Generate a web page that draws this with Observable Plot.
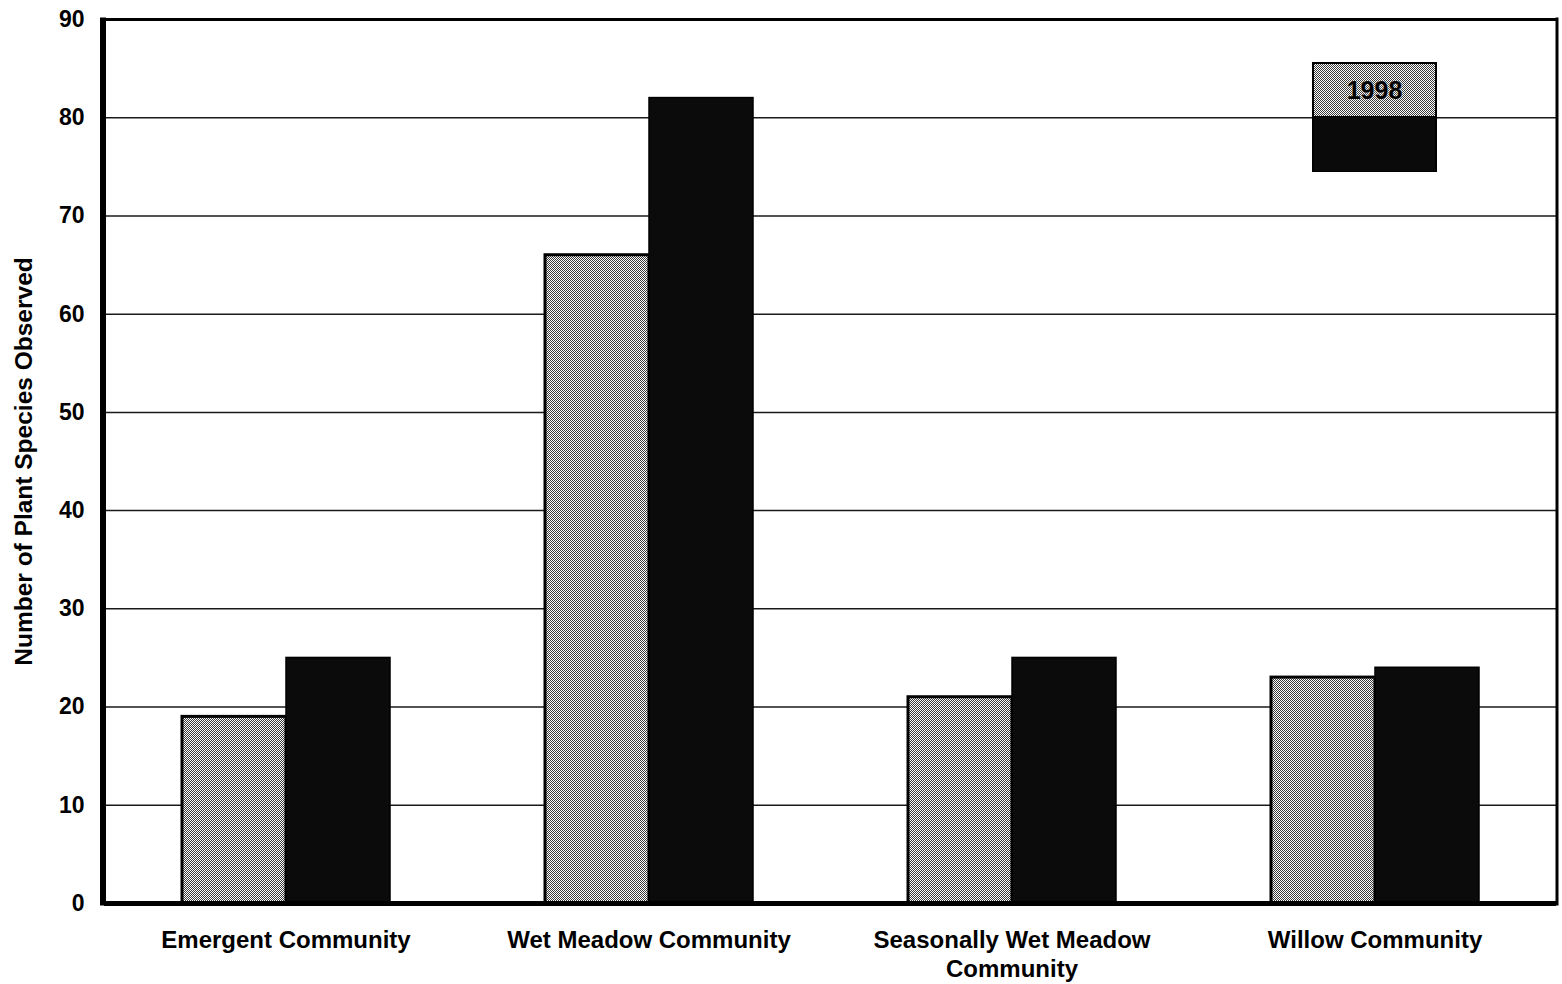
<!DOCTYPE html>
<html>
<head>
<meta charset="utf-8">
<script src="https://cdn.jsdelivr.net/npm/d3@7"></script>
<script src="https://cdn.jsdelivr.net/npm/@observablehq/plot@0.6"></script>
<style>
  html, body { margin: 0; padding: 0; background: #fff; }
  #wrap { position: relative; width: 1562px; height: 984px; font-family: "Liberation Sans", Arial, sans-serif; }
  #legend { position: absolute; left: 1312px; top: 62px; width: 125px; height: 110px; box-sizing: border-box; border: 2px solid #000; }
  #legend .sw1 { height: 52px; background: repeating-conic-gradient(#ffffff 0 25%, #3a3a3a 0 50%) 0 0 / 2px 2px; display: flex; align-items: center; justify-content: center; border-bottom: 1px solid #000; }
  #legend .sw1 span { font-weight: bold; font-size: 25px; color: #000; text-shadow: 0 0 2px #ccc; }
  #legend .sw2 { height: 54px; background: #0a0a0a; }
</style>
</head>
<body>
<div id="wrap"></div>
<script>
// ---- data ----
const categories = ["Emergent Community", "Wet Meadow Community", "Seasonally Wet Meadow\nCommunity", "Willow Community"];
const years = ["1998", "1999"];
const values1998 = [19, 66, 21, 23];
const values1999 = [25, 82, 25, 24];
const yTicks = [0, 10, 20, 30, 40, 50, 60, 70, 80, 90];
const yLabel = "Number of Plant Species Observed";
const legendLabel = "1998";

const data = categories.flatMap((c, i) => [
  {cat: c, year: years[0], v: values1998[i]},
  {cat: c, year: years[1], v: values1999[i]}
]);

const GRAY = "#a1a1a1", BLACK = "#0b0b0b";

const plot = Plot.plot({
  width: 1562,
  height: 984,
  marginLeft: 103,
  marginRight: 5,
  marginTop: 19,
  marginBottom: 81,
  style: {fontFamily: "'Liberation Sans', Arial, sans-serif", fontWeight: "bold", color: "#000", background: "#fff", overflow: "visible"},
  fx: {domain: categories, padding: 0, label: null},
  x: {domain: years, paddingInner: 0, paddingOuter: 0.739, axis: null},
  y: {domain: [0, 90], label: null},
  marks: [
    Plot.ruleY(yTicks.slice(1, -1), {stroke: "#1a1a1a", strokeWidth: 1.5}),
    Plot.barY(data.filter(d => d.year === years[0]), {fx: "cat", x: "year", y: "v", fill: GRAY, stroke: "#000", strokeWidth: 3}),
    Plot.barY(data.filter(d => d.year === years[1]), {fx: "cat", x: "year", y: "v", fill: BLACK, stroke: "#000", strokeWidth: 1.5}),
    Plot.ruleY([0], {stroke: "#000", strokeWidth: 5}),
    Plot.ruleY([90], {stroke: "#000", strokeWidth: 3}),
    Plot.axisY({ticks: yTicks, tickSize: 0, tickPadding: 20, label: null, fontSize: 23}),
    Plot.axisY({ticks: [], tickSize: 0, label: yLabel, labelAnchor: "center", labelArrow: "none", labelOffset: 90, fontSize: 24.5}),
    Plot.axisFx({anchor: "bottom", tickSize: 0, tickPadding: 25, label: null, fontSize: 24, lineHeight: 1.17})
  ]
});

document.getElementById("wrap").appendChild(plot);

// textures and frame sides, using the plot's own scales
const svg = d3.select(plot.tagName.toLowerCase() === "svg" ? plot : plot.querySelector("svg"));
const defs = svg.insert("defs", ":first-child");
const pat = defs.append("pattern").attr("id", "grayTex").attr("width", 2).attr("height", 2).attr("patternUnits", "userSpaceOnUse");
pat.append("rect").attr("width", 2).attr("height", 2).attr("fill", "#ffffff");
pat.append("rect").attr("width", 1).attr("height", 1).attr("fill", "#3a3a3a");
pat.append("rect").attr("x", 1).attr("y", 1).attr("width", 1).attr("height", 1).attr("fill", "#3a3a3a");
svg.selectAll(`g[fill="${GRAY}"]`).attr("fill", "url(#grayTex)");

const ys = plot.scale("y");
const fxs = plot.scale("fx");
const y0 = ys.apply(0), y90 = ys.apply(90);
const [xl, xr] = fxs.range;
svg.append("line").attr("x1", xl).attr("x2", xl).attr("y1", y90 - 1.5).attr("y2", y0 + 2.5).attr("stroke", "#000").attr("stroke-width", 6);
svg.append("line").attr("x1", xr).attr("x2", xr).attr("y1", y90 - 1.5).attr("y2", y0 + 2.5).attr("stroke", "#000").attr("stroke-width", 3);

// legend
const lg = document.createElement("div");
lg.id = "legend";
lg.innerHTML = `<div class="sw1"><span>${legendLabel}</span></div><div class="sw2"></div>`;
document.getElementById("wrap").appendChild(lg);
</script>
</body>
</html>
